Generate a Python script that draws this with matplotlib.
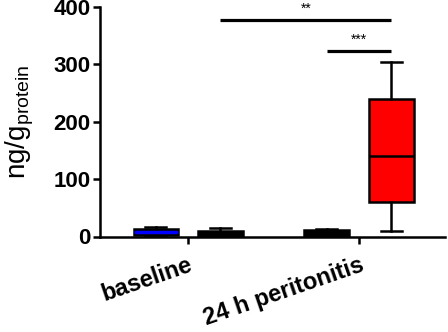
import matplotlib
matplotlib.use("Agg")
import matplotlib.pyplot as plt

plt.rcParams['font.family'] = ['Liberation Sans', 'DejaVu Sans']
plt.rcParams['mathtext.fontset'] = 'custom'
plt.rcParams['mathtext.rm'] = 'Liberation Sans'
plt.rcParams['mathtext.it'] = 'Liberation Sans'

# Data (ng/g protein)
groups = ["baseline", "24 h peritonitis"]
whislo = [1, 1, 1, 9]
q1 = [3, 1.5, 1.5, 60]
med = [7, 4, 4, 140]
q3 = [12.5, 9.5, 10.5, 240]
whishi = [16, 14, 13, 305]
box_colors = ["#0000ff", "#000000", "#000000", "#ff0000"]
median_colors = ["#0000ff", "#000000", "#000000", "#000000"]
# significance: (box i, box j, height, label)
sig_pairs = [(1, 3, 378, "**"), (2, 3, 323, "***")]
yticks = [0, 100, 200, 300, 400]

fig = plt.figure(figsize=(4.48, 3.32), dpi=100)
ax = fig.add_axes([100/448, (332-236.5)/332, 345/448, 229.5/332])

group_centers = [0, 1]
off = 0.189
positions = [group_centers[0]-off, group_centers[0]+off, group_centers[1]-off, group_centers[1]+off]

stats = []
for i in range(4):
    stats.append(dict(whislo=whislo[i], q1=q1[i], med=med[i], q3=q3[i], whishi=whishi[i], fliers=[]))

bp = ax.bxp(stats, positions=positions, widths=0.26, patch_artist=True, showfliers=False,
            manage_ticks=False,
            boxprops=dict(linewidth=1.8, edgecolor='black'),
            whiskerprops=dict(linewidth=1.8, color='black'),
            capprops=dict(linewidth=1.8, color='black'),
            medianprops=dict(linewidth=1.8))
for i, b in enumerate(bp['boxes']):
    b.set_facecolor(box_colors[i])
for i, m in enumerate(bp['medians']):
    m.set_color(median_colors[i])
for c in bp['caps']:
    x0, x1 = c.get_xdata()
    xm = (x0 + x1) / 2
    c.set_xdata([xm - 0.062, xm + 0.062])

for i, j, h, lab in sig_pairs:
    ax.plot([positions[i], positions[j]], [h, h], color='black', lw=2.3, solid_capstyle='butt', clip_on=False)
    ax.text((positions[i]+positions[j])/2, h + 7, lab, ha='center', va='bottom', fontsize=10)

ax.set_xlim(-0.515, 1.503)
ax.set_ylim(0, 400)
ax.set_yticks(yticks)
ax.set_yticklabels([str(v) for v in yticks], fontsize=16, fontweight='bold')
ax.set_xticks(group_centers)
ax.set_xticklabels(groups, fontsize=17, fontweight='bold', rotation=19, ha='right', rotation_mode='anchor')
for s in ['top', 'right']:
    ax.spines[s].set_visible(False)
for s in ['left', 'bottom']:
    ax.spines[s].set_linewidth(1.8)
ax.tick_params(axis='both', width=1.8, length=5)
ax.tick_params(axis='y', pad=2)
ax.tick_params(axis='x', pad=7)
ax.set_ylabel(r'ng/g$_{\mathrm{protein}}$', fontsize=20, labelpad=12)

fig.savefig("out.png", dpi=100)
